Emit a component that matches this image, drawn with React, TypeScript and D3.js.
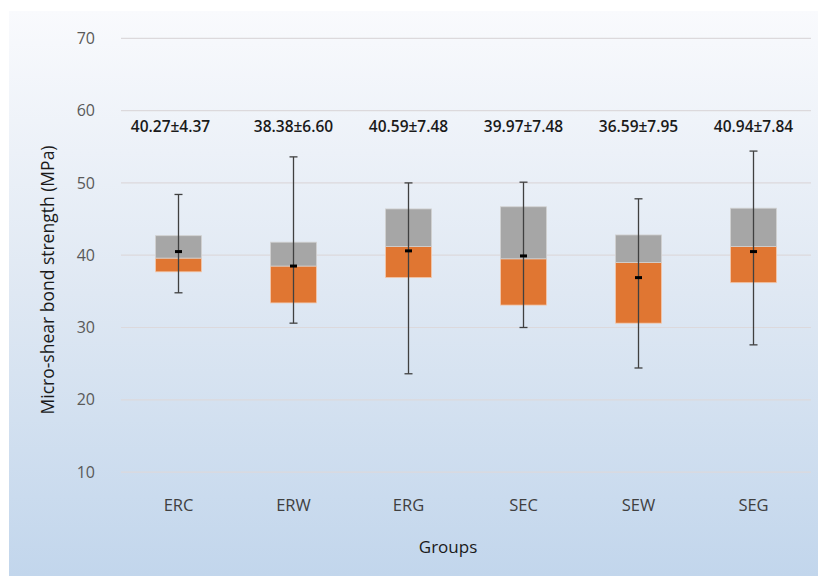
import React from 'react';
import * as d3 from 'd3';

// values
const groups = ['ERC', 'ERW', 'ERG', 'SEC', 'SEW', 'SEG'];
const whiskerMin = [34.8, 30.6, 23.6, 30.0, 24.4, 27.6];
const q1 = [37.7, 33.4, 36.9, 33.1, 30.6, 36.2];
const median = [39.6, 38.5, 41.2, 39.5, 39.0, 41.2];
const q3 = [42.7, 41.8, 46.4, 46.7, 42.8, 46.5];
const whiskerMax = [48.4, 53.6, 50.0, 50.1, 47.8, 54.4];
const means = [40.5, 38.5, 40.6, 39.9, 36.9, 40.5];
const meanLabels = ['40.27±4.37', '38.38±6.60', '40.59±7.48', '39.97±7.48', '36.59±7.95', '40.94±7.84'];
const yTicks = [10, 20, 30, 40, 50, 60, 70];

const W = 818;
const H = 576;
const left = 121;
const right = 811;
const top = 38.3;
const font = "'Open Sans', 'DejaVu Sans', sans-serif";

export default function App() {
  const x = d3.scaleBand().domain(groups).range([left, right]).paddingInner(0.6).paddingOuter(0.3);
  const y = d3.scaleLinear().domain([10, 70]).range([top + 60 * 7.23, top]);
  const bw = x.bandwidth();

  return (
    <svg width={W} height={H} style={{ position: 'absolute', left: 0, top: 0 }}>
      <defs>
        <linearGradient id="bg" x1="0" y1="0" x2="0" y2="1">
          <stop offset="0" stopColor="#f9fafd" />
          <stop offset="0.5" stopColor="#dfe8f3" />
          <stop offset="1" stopColor="#c2d6ec" />
        </linearGradient>
      </defs>
      <rect x={0} y={0} width={W} height={H} fill="#fff" />
      <rect x={9} y={11} width={W - 9} height={H - 11} fill="url(#bg)" />

      {yTicks.map(t => (
        <g key={t}>
          <line x1={left} x2={right} y1={y(t)} y2={y(t)} stroke="#dcd9dc" strokeWidth={1.2} />
          <text x={95} y={y(t)} dy="0.35em" textAnchor="end" fontFamily={font} fontSize={16} fill="#595959">{t}</text>
        </g>
      ))}

      {groups.map((g, i) => {
        const cx = (x(g) as number) + bw / 2;
        const x0 = x(g) as number;
        return (
          <g key={g}>
            <rect x={x0} y={y(median[i])} width={bw} height={y(q1[i]) - y(median[i])} fill="#e07632" stroke="#f3c9ad" strokeWidth={0.8} />
            <rect x={x0} y={y(q3[i])} width={bw} height={y(median[i]) - y(q3[i])} fill="#a6a6a6" stroke="#d2d2d2" strokeWidth={0.8} />
            <line x1={cx} x2={cx} y1={y(whiskerMax[i])} y2={y(whiskerMin[i])} stroke="#404040" strokeWidth={1.3} />
            <line x1={cx - 4} x2={cx + 4} y1={y(whiskerMax[i])} y2={y(whiskerMax[i])} stroke="#404040" strokeWidth={1.3} />
            <line x1={cx - 4} x2={cx + 4} y1={y(whiskerMin[i])} y2={y(whiskerMin[i])} stroke="#404040" strokeWidth={1.3} />
            <rect x={cx - 3.5} y={y(means[i]) - 1.5} width={7} height={3} fill="#000" />
            <text x={cx - (i === 0 ? 8 : 0)} y={y(57.8)} dy="0.35em" textAnchor="middle" fontFamily={font} fontWeight={600} fontSize={15.5} fill="#1a1a1a">{meanLabels[i]}</text>
            <text x={cx} y={505} dy="0.35em" textAnchor="middle" fontFamily={font} fontSize={16.5} fill="#404040">{g}</text>
          </g>
        );
      })}

      <text transform="translate(48,280) rotate(-90)" dy="0.35em" textAnchor="middle" fontFamily={font} fontSize={17.5} fill="#1a1a1a">Micro-shear bond strength (MPa)</text>
      <text x={448} y={547} dy="0.35em" textAnchor="middle" fontFamily={font} fontSize={17} fill="#1a1a1a">Groups</text>
    </svg>
  );
}
